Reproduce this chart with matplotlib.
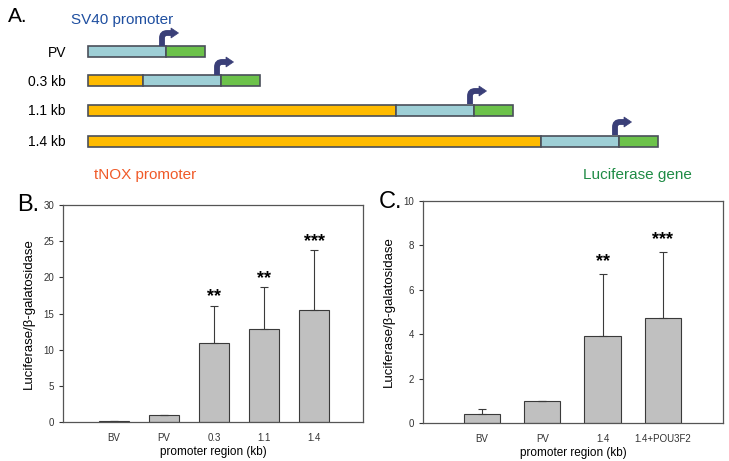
import numpy as np
import matplotlib.pyplot as plt
from matplotlib.patches import Rectangle, PathPatch, Polygon
from matplotlib.path import Path

plt.rcParams['font.family'] = ['Liberation Sans', 'DejaVu Sans']

# 构建体示意图 (A) 的数据：各段长度（示意单位）
constructs = ['PV', '0.3 kb', '1.1 kb', '1.4 kb']
tnox_len = [0, 55, 308, 453]
sv40_len = 78
luc_len = 39

# B 图数据
b_labels = ['BV', 'PV', '0.3', '1.1', '1.4']
b_mean = [0.1, 1.0, 10.9, 12.9, 15.5]
b_err = [0.08, 0.0, 5.2, 5.8, 8.3]
b_sig = ['', '', '**', '**', '***']

# C 图数据
c_labels = ['BV', 'PV', '1.4', '1.4+POU3F2']
c_mean = [0.4, 1.0, 3.9, 4.75]
c_err = [0.25, 0.0, 2.8, 2.95]
c_sig = ['', '', '**', '***']

col_tnox = '#ffbb00'
col_sv40 = '#9ecfd6'
col_luc = '#6cc24a'
col_edge = '#4a4f5a'
col_arrow = '#3a3f78'

fig = plt.figure(figsize=(7.29, 4.61), dpi=100)

# ---- A: 示意图 ----
axa = fig.add_axes([0, 0, 1, 1])
axa.set_xlim(0, 729)
axa.set_ylim(461, 0)
axa.axis('off')


def start_arrow(ax, xs, ybase):
    # 弯曲箭头：竖线 -> 圆角 -> 横线 + 三角箭头
    ytop = ybase - 13
    r = 5
    verts = [(xs, ybase), (xs, ytop + r), (xs, ytop), (xs + r, ytop), (xs + 10, ytop)]
    codes = [Path.MOVETO, Path.LINETO, Path.CURVE3, Path.CURVE3, Path.LINETO]
    ax.add_patch(PathPatch(Path(verts, codes), facecolor='none', edgecolor=col_arrow,
                           linewidth=4.2, capstyle='butt'))
    ax.add_patch(Polygon([(xs + 9, ytop - 5), (xs + 16.5, ytop), (xs + 9, ytop + 5)],
                         closed=True, facecolor=col_arrow, edgecolor=col_arrow, linewidth=0.5))


x0 = 88
row_y = [52, 81, 110, 141]
h = 11
for lab, tl, y in zip(constructs, tnox_len, row_y):
    x = x0
    for w, c in [(tl, col_tnox), (sv40_len, col_sv40), (luc_len, col_luc)]:
        if w > 0:
            axa.add_patch(Rectangle((x, y - h / 2), w, h, facecolor=c,
                                    edgecolor=col_edge, linewidth=1.2))
        x += w
    start_arrow(axa, x0 + tl + sv40_len - 4, y - h / 2 - 0.5)
    axa.text(66, y + 1, lab, ha='right', va='center', fontsize=10)

axa.text(8, 17, 'A.', fontsize=15, va='center')
axa.text(71, 20, 'SV40 promoter', fontsize=11, color='#1f4fa0', va='center')
axa.text(94, 175, 'tNOX promoter', fontsize=11, color='#f05a28', va='center')
axa.text(583, 175, 'Luciferase gene', fontsize=11, color='#1e8b45', va='center')
axa.text(17, 205, 'B.', fontsize=17, va='center')
axa.text(379, 202, 'C.', fontsize=17, va='center')


def bar_panel(ax, labels, mean, err, sig, ymax, ystep, star_off):
    x = np.arange(len(labels))
    ax.bar(x, mean, width=0.6, color='#c0c0c0', edgecolor='#3a3a3a', linewidth=0.8)
    ax.errorbar(x, mean, yerr=[np.zeros(len(err)), err], fmt='none',
                ecolor='#3a3a3a', elinewidth=0.8, capsize=3, capthick=0.8)
    for xi, m, e, s in zip(x, mean, err, sig):
        if s:
            ax.text(xi, m + e + star_off, s, ha='center', va='bottom',
                    fontsize=13, fontweight='bold')
    ax.set_xlim(-1, len(labels))
    ax.set_ylim(0, ymax)
    ax.set_yticks(np.arange(0, ymax + 0.01, ystep))
    ax.set_xticks(x)
    ax.set_xticklabels(labels)
    ax.tick_params(axis='y', labelsize=7, length=3, width=0.8, colors='#333333')
    ax.tick_params(axis='x', labelsize=7, length=0, pad=8, colors='#333333')
    for sp in ax.spines.values():
        sp.set_color('#555555')
        sp.set_linewidth(0.9)
    ax.set_xlabel('promoter region (kb)', fontsize=8.5, labelpad=2)
    ax.set_ylabel('Luciferase/β-galatosidase', fontsize=9.5, labelpad=6)


axb = fig.add_axes([63 / 729, 39 / 461, 300 / 729, 217 / 461])
bar_panel(axb, b_labels, b_mean, b_err, b_sig, 30, 5, 0.0)
axb.set_xlim(-1.02, 4.98)

axc = fig.add_axes([423 / 729, 38 / 461, 300 / 729, 222 / 461])
bar_panel(axc, c_labels, c_mean, c_err, c_sig, 10, 2, 0.2)
axc.set_xlim(-0.98, 4.0)

fig.savefig('out.png', dpi=100)
